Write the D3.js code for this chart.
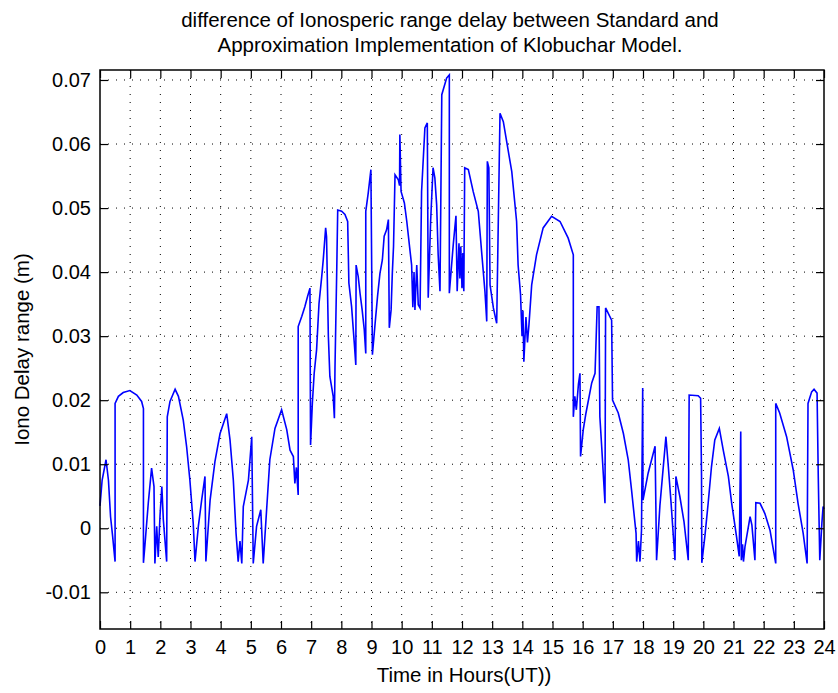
<html>
<head>
<meta charset="utf-8">
<title>Klobuchar difference</title>
<style>
  body { margin: 0; background: #fff; }
  text { font-family: Arial, "Liberation Sans", sans-serif; fill: #000; }
</style>
<script src="https://d3js.org/d3.v7.min.js"></script>
</head>
<body>
<svg width="838" height="693"></svg>
<script>
// time (hours UT) and delay difference (m)
var hours = [0,0.07,0.20,0.28,0.35,0.42,0.50,0.50,0.61,0.77,0.99,1.22,1.38,1.44,1.44,1.49,1.60,1.71,1.79,1.82,
  1.88,1.93,1.99,2.05,2.10,2.21,2.23,2.32,2.49,2.60,2.76,2.87,2.98,3.09,3.15,3.26,3.37,3.48,3.51,3.65,
  3.81,3.98,4.20,4.31,4.42,4.51,4.58,4.64,4.70,4.75,4.92,5.03,5.08,5.19,5.33,5.41,5.53,5.63,5.80,6.02,
  6.19,6.30,6.41,6.46,6.51,6.57,6.57,6.69,6.79,6.88,6.96,6.98,7.04,7.10,7.18,7.26,7.35,7.40,7.48,7.51,
  7.57,7.62,7.73,7.77,7.79,7.85,7.88,8.01,8.12,8.21,8.25,8.34,8.43,8.48,8.49,8.56,8.62,8.69,8.76,8.81,
  8.81,8.89,8.98,9.03,9.12,9.20,9.28,9.36,9.42,9.50,9.56,9.59,9.65,9.69,9.73,9.78,9.89,9.93,9.94,9.98,
  10.09,10.17,10.28,10.33,10.37,10.41,10.44,10.50,10.55,10.61,10.66,10.77,10.85,10.88,10.96,11.04,11.10,11.16,11.21,11.27,
  11.33,11.49,11.58,11.58,11.71,11.80,11.84,11.90,11.93,11.96,12.00,12.03,12.06,12.09,12.21,12.37,12.54,12.65,12.76,12.82,
  12.84,12.89,12.93,13.04,13.15,13.26,13.37,13.48,13.65,13.81,13.86,13.94,13.99,14.02,14.05,14.12,14.17,14.22,14.31,14.47,
  14.69,14.97,15.25,15.52,15.69,15.69,15.74,15.79,15.86,15.91,15.93,16.02,16.11,16.30,16.41,16.48,16.54,16.57,16.63,16.74,
  16.76,16.96,16.99,17.18,17.35,17.51,17.62,17.77,17.79,17.85,17.90,17.95,17.99,18.00,18.17,18.40,18.45,18.56,18.76,18.84,
  18.93,19.06,19.09,19.22,19.36,19.50,19.53,19.83,19.91,19.94,19.95,20.05,20.16,20.27,20.38,20.53,20.66,20.83,20.94,21.10,
  21.19,21.24,21.26,21.30,21.33,21.38,21.55,21.61,21.71,21.74,21.88,22.04,22.21,22.40,22.40,22.53,22.76,22.98,23.14,23.31,
  23.44,23.47,23.59,23.67,23.77,23.81,23.86,23.93,23.97,24.0];
var delay = [0.0035,0.0075,0.0107,0.0075,0.0018,-0.0013,-0.0052,0.0195,0.0206,0.0212,0.0215,0.0208,0.0198,0.0187,-0.0054,-0.0026,0.0039,0.0094,0.0065,-0.0055,
  0.0003,-0.0045,0.0020,0.0065,0.0013,-0.0052,0.0174,0.0198,0.0217,0.0206,0.0169,0.0128,0.0075,0.0008,-0.0052,0.0003,0.0044,0.0081,-0.0052,0.0044,
  0.0104,0.0148,0.0179,0.0138,0.0075,-0.0008,-0.0052,-0.0020,-0.0055,0.0034,0.0075,0.0143,-0.0055,0.0003,0.0029,-0.0055,0.0034,0.0107,0.0156,0.0185,
  0.0154,0.0122,0.0112,0.0070,0.0095,0.0052,0.0315,0.0331,0.0346,0.0362,0.0375,0.0130,0.0196,0.0242,0.0279,0.0351,0.0393,0.0419,0.0469,0.0455,
  0.0300,0.0237,0.0206,0.0172,0.0252,0.0409,0.0497,0.0495,0.0490,0.0479,0.0383,0.0346,0.0289,0.0255,0.0411,0.0393,0.0367,0.0341,0.0310,0.0273,
  0.0495,0.0523,0.0560,0.0271,0.0320,0.0362,0.0398,0.0419,0.0456,0.0466,0.0482,0.0313,0.0341,0.0398,0.0440,0.0552,0.0544,0.0535,0.0615,0.0526,
  0.0508,0.0479,0.0432,0.0411,0.0345,0.0400,0.0341,0.0411,0.0349,0.0344,0.0526,0.0625,0.0633,0.0360,0.0479,0.0563,0.0547,0.0505,0.0427,0.0370,
  0.0677,0.0703,0.0708,0.0367,0.0443,0.0488,0.0370,0.0445,0.0390,0.0440,0.0375,0.0430,0.0370,0.0563,0.0560,0.0526,0.0495,0.0432,0.0370,0.0323,
  0.0573,0.0563,0.0380,0.0344,0.0320,0.0648,0.0635,0.0604,0.0557,0.0479,0.0411,0.0365,0.0300,0.0340,0.0260,0.0330,0.0290,0.0318,0.0380,0.0427,
  0.0469,0.0487,0.0479,0.0453,0.0427,0.0174,0.0206,0.0185,0.0225,0.0242,0.0112,0.0154,0.0180,0.0227,0.0242,0.0346,0.0346,0.0174,0.0128,0.0039,
  0.0344,0.0325,0.0200,0.0180,0.0148,0.0107,0.0060,-0.0008,-0.0052,-0.0020,-0.0052,-0.0003,0.0219,0.0044,0.0086,0.0128,-0.0050,0.0035,0.0143,0.0096,
  0.0040,-0.0050,0.0081,0.0050,0.0010,-0.0050,0.0208,0.0207,0.0203,0.0081,-0.0054,-0.0013,0.0039,0.0096,0.0138,0.0156,0.0122,0.0081,0.0039,-0.0013,
  -0.0044,0.0151,-0.0050,-0.0025,-0.0052,-0.0029,0.0018,0.0005,-0.0050,0.0040,0.0039,0.0023,-0.0003,-0.0055,0.0195,0.0180,0.0143,0.0091,0.0039,-0.0008,
  -0.0055,0.0195,0.0213,0.0217,0.0211,0.0081,-0.0050,0.0008,0.0034,0.0030];

var xTicks = d3.range(0, 25, 1);
var yTicks = [-0.01, 0, 0.01, 0.02, 0.03, 0.04, 0.05, 0.06, 0.07];
var titleLines = ["difference of Ionosperic range delay between Standard and",
                  "Approximation Implementation of Klobuchar Model."];

var svg = d3.select("svg"),
    margin = {top: 70, right: 14, bottom: 64, left: 100},
    width = +svg.attr("width") - margin.left - margin.right,
    height = +svg.attr("height") - margin.top - margin.bottom,
    g = svg.append("g").attr("transform", `translate(${margin.left},${margin.top})`);

var x = d3.scaleLinear().domain([0, 24]).range([0, width]),
    y = d3.scaleLinear().domain([-0.01573, 0.07156]).range([height, 0]);

var fmt = d => d === 0 ? "0" : (d < 0 ? "-" : "") + Math.abs(d).toFixed(2);

// dotted grid
g.append("g").selectAll("line").data(xTicks.slice(1, -1)).enter().append("line")
  .attr("x1", d => x(d)).attr("x2", d => x(d)).attr("y1", 0).attr("y2", height)
  .attr("stroke", "#000").attr("stroke-width", 1).attr("stroke-dasharray", "1,7");
g.append("g").selectAll("line").data(yTicks).enter().append("line")
  .attr("x1", 0).attr("x2", width).attr("y1", d => y(d)).attr("y2", d => y(d))
  .attr("stroke", "#000").attr("stroke-width", 1).attr("stroke-dasharray", "1,7");

// the series
var line = d3.line().x((d, i) => x(hours[i])).y(d => y(d));
g.append("path").datum(delay)
  .attr("d", line)
  .attr("fill", "none")
  .attr("stroke", "#0000ff")
  .attr("stroke-width", 1.6)
  .attr("stroke-linejoin", "miter");

// axes: ticks inward on all four sides
var tickLen = 8;
var axBottom = g.append("g").attr("transform", `translate(0,${height})`)
  .call(d3.axisBottom(x).tickValues(xTicks).tickSize(-tickLen).tickPadding(11).tickFormat(d3.format("d")));
var axTop = g.append("g")
  .call(d3.axisTop(x).tickValues(xTicks).tickSize(-tickLen).tickFormat(""));
var axLeft = g.append("g")
  .call(d3.axisLeft(y).tickValues(yTicks).tickSize(-tickLen).tickPadding(9).tickFormat(fmt));
var axRight = g.append("g").attr("transform", `translate(${width},0)`)
  .call(d3.axisRight(y).tickValues(yTicks).tickSize(-tickLen).tickFormat(""));

[axBottom, axTop, axLeft, axRight].forEach(a => {
  a.select(".domain").remove();
  a.selectAll("line").attr("stroke", "#000").attr("stroke-width", 1.2);
  a.selectAll("text").style("font-size", "20px").style("font-family", "Arial, 'Liberation Sans', sans-serif").attr("fill", "#000");
});

g.append("rect").attr("width", width).attr("height", height)
  .attr("fill", "none").attr("stroke", "#000").attr("stroke-width", 1.5);

// labels
svg.append("g").selectAll("text").data(titleLines).enter().append("text")
  .attr("x", 450)
  .attr("y", (d, i) => 27 + i * 25)
  .attr("text-anchor", "middle")
  .style("font-size", "20.5px")
  .text(d => d);

svg.append("text")
  .attr("x", 464).attr("y", 682)
  .attr("text-anchor", "middle").style("font-size", "20.5px")
  .text("Time in Hours(UT))");

svg.append("text")
  .attr("transform", `translate(29,${margin.top + height / 2}) rotate(-90)`)
  .attr("text-anchor", "middle").style("font-size", "20.5px")
  .text("Iono Delay range (m)");
</script>
</body>
</html>
